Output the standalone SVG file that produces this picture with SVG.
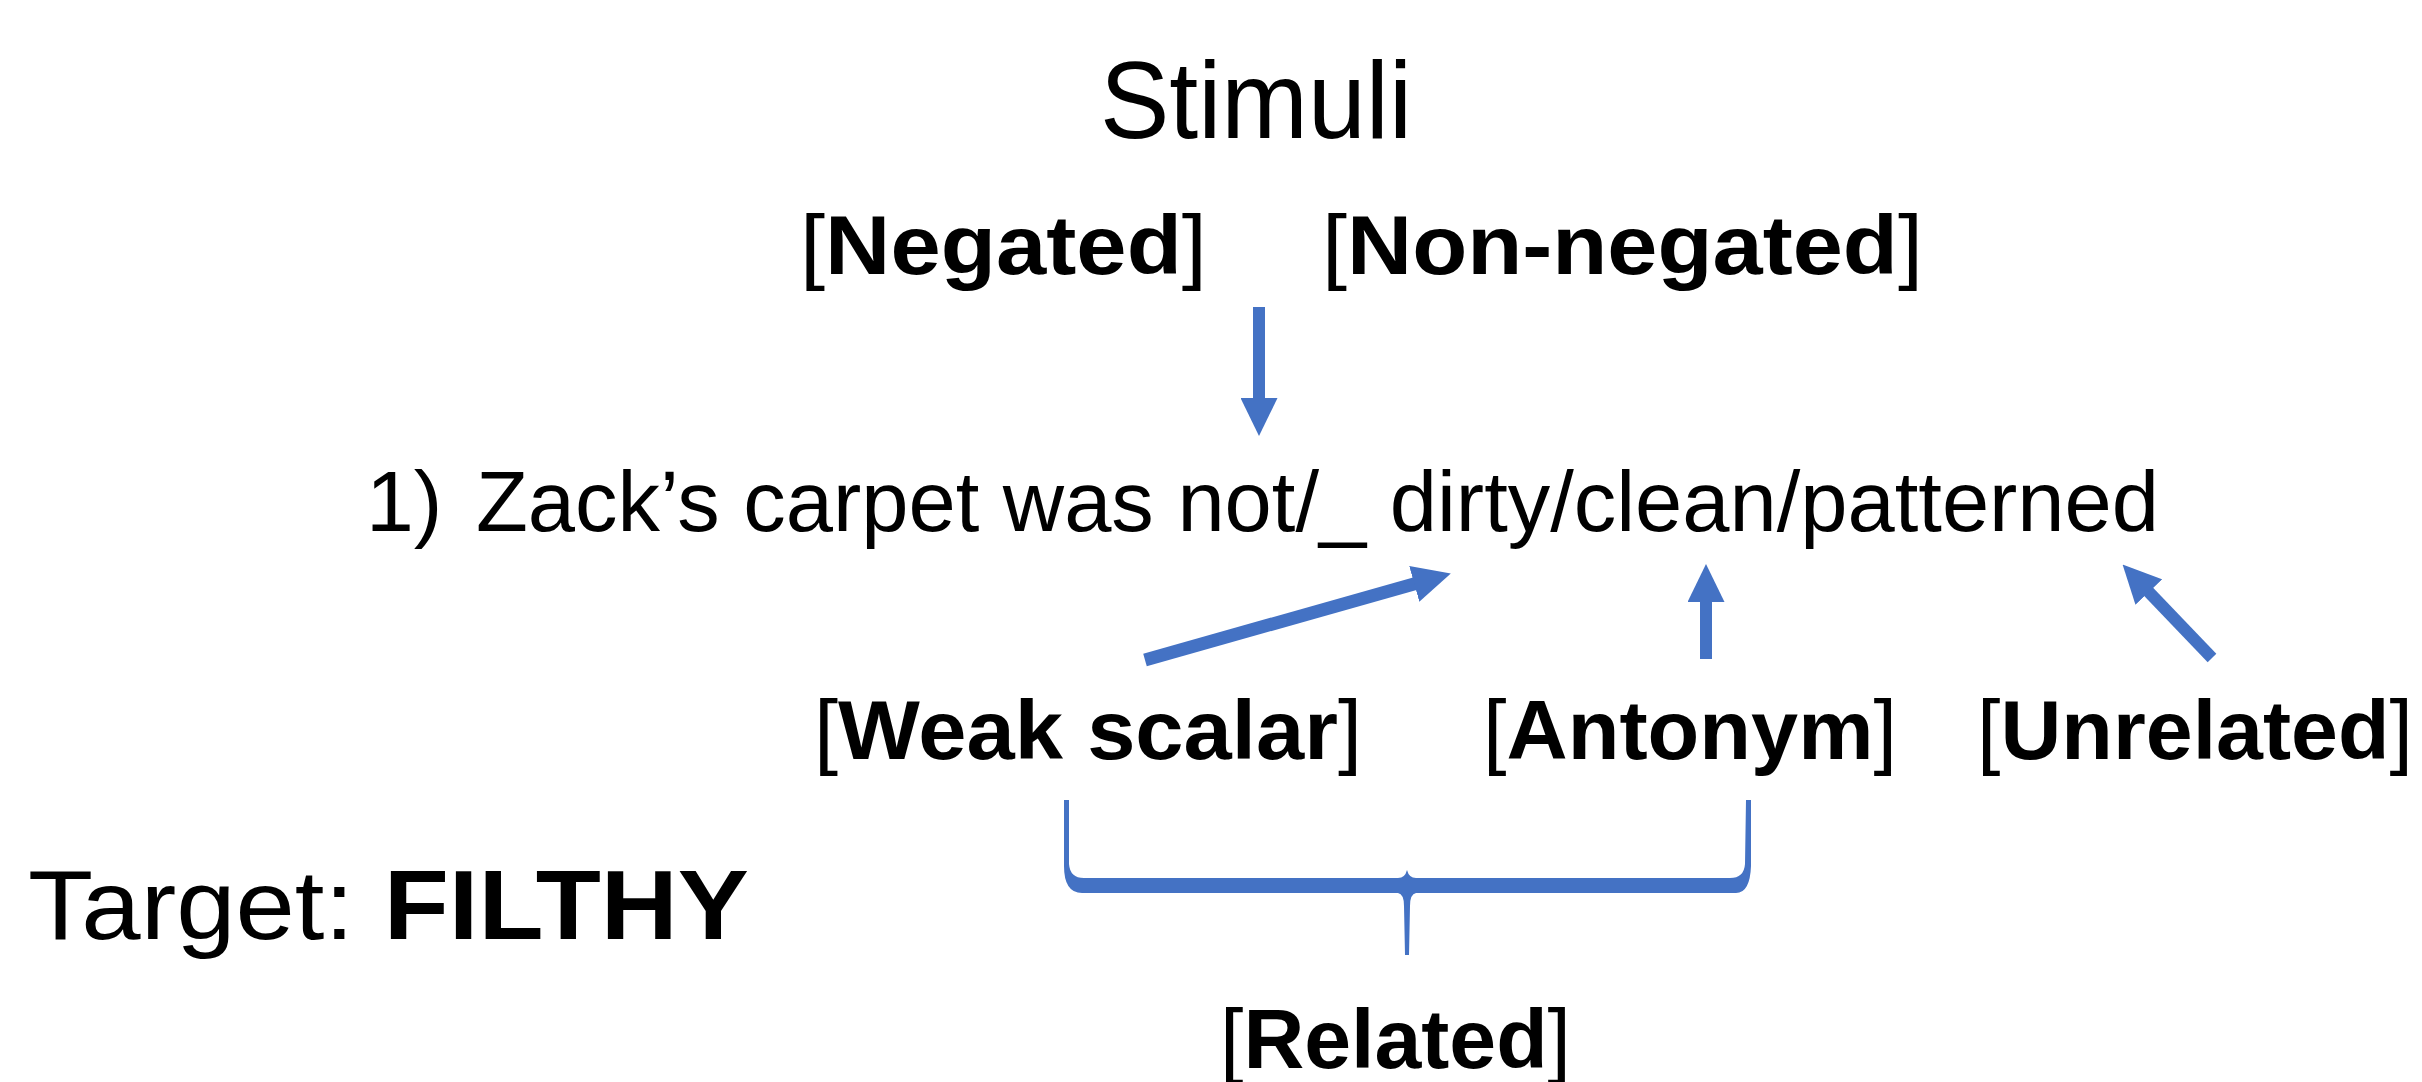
<svg xmlns="http://www.w3.org/2000/svg" width="2422" height="1082" viewBox="0 0 2422 1082">
<style>
  text { font-family: "Liberation Sans", Arial, sans-serif; fill: #000; }
  .title { font-size: 110px; }
  .lab { font-size: 84px; }
  .b { font-weight: bold; }
  .sent { font-size: 86px; }
  .target { font-size: 98px; }
  .conn { stroke: #4472C4; stroke-width: 12; fill: none; marker-end: url(#ah); }
</style>
<defs>
  <marker id="ah" markerUnits="userSpaceOnUse" markerWidth="38" markerHeight="37" refX="7" refY="18.5" orient="auto">
    <path d="M0,0 L38,18.5 L0,37 Z" fill="#4472C4"/>
  </marker>
</defs>
<rect width="2422" height="1082" fill="#fff"/>

<g id="title"><text class="title" x="1100" y="138" textLength="312" lengthAdjust="spacingAndGlyphs">Stimuli</text></g>
<g id="negated"><text class="lab" x="800" y="274" textLength="407" lengthAdjust="spacingAndGlyphs">[<tspan class="b">Negated</tspan>]</text></g>
<g id="nonnegated"><text class="lab" x="1322" y="274" textLength="601" lengthAdjust="spacingAndGlyphs">[<tspan class="b">Non-negated</tspan>]</text></g>
<g id="sentence">
  <text class="sent" x="366" y="531">1)</text>
  <text class="sent" x="476" y="531" textLength="1683" lengthAdjust="spacingAndGlyphs">Zack’s carpet was not/_ dirty/clean/patterned</text>
</g>
<g id="weak"><text class="lab" x="814" y="759" textLength="548" lengthAdjust="spacingAndGlyphs">[<tspan class="b">Weak scalar</tspan>]</text></g>
<g id="antonym"><text class="lab" x="1483" y="759" textLength="414" lengthAdjust="spacingAndGlyphs">[<tspan class="b">Antonym</tspan>]</text></g>
<g id="unrelated"><text class="lab" x="1977" y="759" textLength="436" lengthAdjust="spacingAndGlyphs">[<tspan class="b">Unrelated</tspan>]</text></g>
<g id="target"><text class="target" x="28" y="939" textLength="721" lengthAdjust="spacingAndGlyphs">Target: <tspan class="b">FILTHY</tspan></text></g>
<g id="related"><text class="lab" x="1220" y="1068" textLength="351" lengthAdjust="spacingAndGlyphs">[<tspan class="b">Related</tspan>]</text></g>

<g id="connectors">
  <line class="conn" x1="1259" y1="307" x2="1259" y2="405"/>
  <line class="conn" style="stroke-width:13" x1="1145" y1="660" x2="1421" y2="582"/>
  <line class="conn" x1="1706" y1="659" x2="1706" y2="595"/>
  <line class="conn" x1="2212" y1="658" x2="2144" y2="587"/>
  <path id="brace" fill="#4472C4" d="M1064,800 L1069,800 L1069,864 Q1070,878 1084,878 L1398,878 Q1405,878 1407,870 Q1409,878 1416,878 L1730,878 Q1744,878 1745,864 L1746,800 L1751,800 L1751,866 Q1750,893 1736,893 L1416,893 Q1410,894 1410,906 L1409,955 L1405,955 L1404,906 Q1404,894 1398,893 L1082,893 Q1064,893 1064,866 Z"/>
</g>
</svg>
